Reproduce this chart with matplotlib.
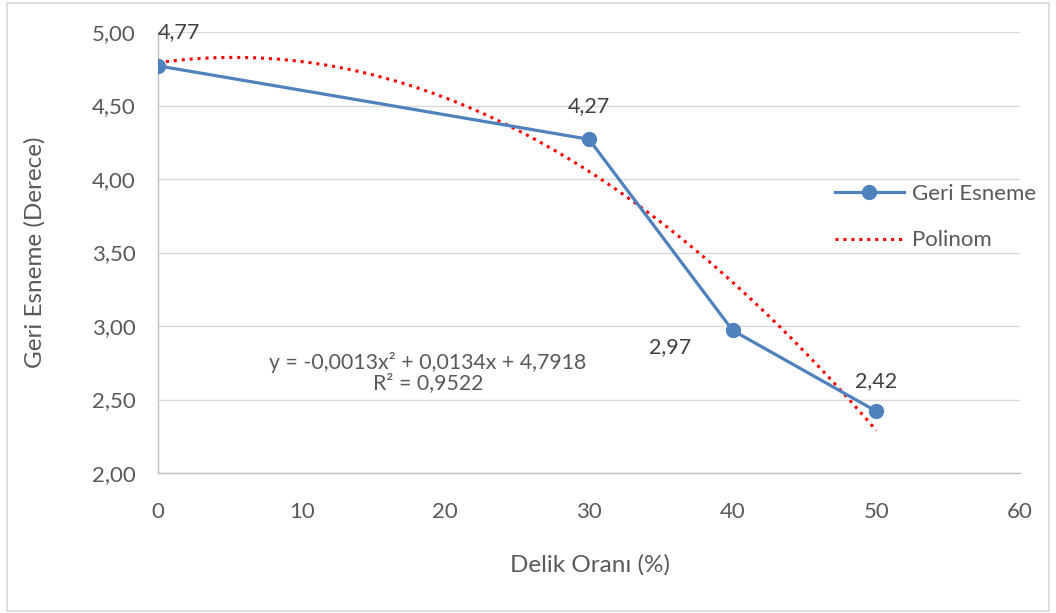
import numpy as np
import matplotlib
matplotlib.use("Agg")
import matplotlib.pyplot as plt
from matplotlib.patches import Rectangle

plt.rcParams['font.family'] = ['Lato', 'DejaVu Sans']

# Veri
delik_orani = [0, 30, 40, 50]
geri_esneme = [4.77, 4.27, 2.97, 2.42]
etiketler = ["4,77", "4,27", "2,97", "2,42"]
x_ticks = [0, 10, 20, 30, 40, 50, 60]
y_ticks = [2.00, 2.50, 3.00, 3.50, 4.00, 4.50, 5.00]
denklem = "y = -0,0013x² + 0,0134x + 4,7918"
r_kare = "R² = 0,9522"

gri = "#595959"
mavi = "#4F81BD"

fig = plt.figure(figsize=(10.56, 6.13), dpi=100)
fig.patches.append(Rectangle((7 / 1056, 2 / 613), 1042 / 1056, 608 / 613,
                             transform=fig.transFigure, fill=False,
                             edgecolor="#D9D9D9", linewidth=1.2))
ax = fig.add_axes([158 / 1056, 140 / 613, 862 / 1056, 441 / 613])

# polinom trend (2. derece), Excel gibi veriden hesaplaniyor
katsayi = np.polyfit(delik_orani, geri_esneme, 2)
xs = np.linspace(0, 50, 200)
ax.plot(xs, np.polyval(katsayi, xs), color="#FF0000", linestyle=(0, (1, 1.6)),
        linewidth=2.2, label="Polinom", zorder=2)

ax.plot(delik_orani, geri_esneme, color=mavi, linewidth=2.3, marker="o",
        markersize=10, label="Geri Esneme", zorder=3)

# veri etiketleri
ofsetler = [(15, 24), (0, 24), (-45, -12), (0, 22)]
for x, y, t, o in zip(delik_orani, geri_esneme, etiketler, ofsetler):
    ax.annotate(t, (x, y), xytext=o, textcoords="offset points",
                ha="center", va="center", fontsize=15.5, color="#404040")

ax.text(0.313, 0.228, denklem + "\n" + r_kare, transform=ax.transAxes,
        ha="center", va="center", fontsize=15.3, color=gri, linespacing=1.05)

ax.set_xlim(0, 60)
ax.set_ylim(2.0, 5.0)
ax.set_xticks(x_ticks)
ax.set_yticks(y_ticks)
ax.set_yticklabels([f"{v:.2f}".replace(".", ",") for v in y_ticks])
ax.tick_params(length=0, labelsize=16, labelcolor=gri)
ax.tick_params(axis="x", pad=21)
ax.tick_params(axis="y", pad=16)
ax.grid(axis="y", color="#D9D9D9", linewidth=1)
ax.set_axisbelow(True)
for s in ["top", "right"]:
    ax.spines[s].set_visible(False)
for s in ["left", "bottom"]:
    ax.spines[s].set_color("#BFBFBF")
    ax.spines[s].set_linewidth(1)

fig.text(590 / 1056, 1 - 565 / 613, "Delik Oranı (%)", ha="center", va="center",
         fontsize=17.5, color=gri)
fig.text(35 / 1056, 1 - 252 / 613, "Geri Esneme (Derece)", ha="center", va="center",
         fontsize=17.5, color=gri, rotation=90)

h, l = ax.get_legend_handles_labels()
leg = fig.legend(h[::-1], l[::-1], loc="center left",
                 bbox_to_anchor=(815 / 1056, 1 - 217 / 613), frameon=False,
                 fontsize=16, handlelength=3.1, handletextpad=0.35,
                 labelspacing=1.2, labelcolor=gri)

fig.savefig("out.png", dpi=100)
